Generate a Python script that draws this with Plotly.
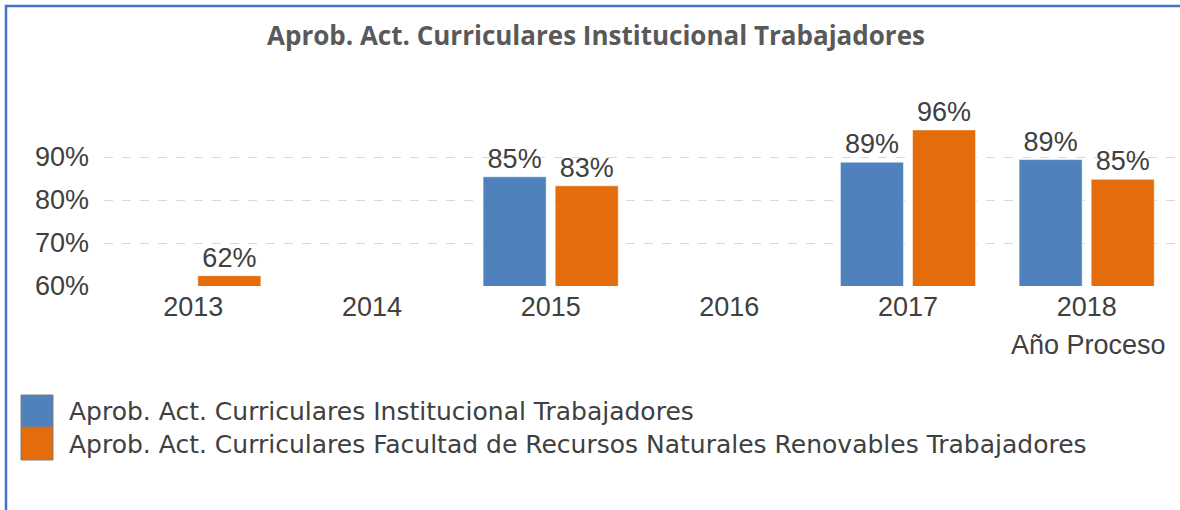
import plotly.graph_objects as go

# ---- data ----
years = ["2013", "2014", "2015", "2016", "2017", "2018"]
institucional = [None, None, 85.4, None, 88.8, 89.4]
facultad = [62.4, None, 83.3, None, 96.3, 84.8]
y_tick_vals = [60, 70, 80, 90]
y_tick_text = ["60%", "70%", "80%", "90%"]
series_names = [
    "Aprob. Act. Curriculares Institucional Trabajadores",
    "Aprob. Act. Curriculares Facultad de Recursos Naturales Renovables Trabajadores",
]
title_text = "Aprob. Act. Curriculares Institucional Trabajadores"
x_title = "Año Proceso"

BLUE = "#4F81BD"
ORANGE = "#E46C0A"
TXT = "#404040"

W, H = 1180, 510
ML, MR, MT, MB = 104, 4, 114, 224
PW = W - ML - MR
PH = H - MT - MB


def px_x(px):
    return (px - ML) / PW


def px_y(py):
    return (H - MB - py) / PH


def labels(vals):
    return [("%.0f%%" % v) if v is not None else "" for v in vals]


font_main = "Liberation Sans, Arial, sans-serif"

fig = go.Figure()
for name, vals, col in [(series_names[0], institucional, BLUE),
                        (series_names[1], facultad, ORANGE)]:
    fig.add_trace(go.Bar(
        x=years, y=vals, name=name,
        marker=dict(color=col, line=dict(color="rgba(255,255,255,0.55)", width=1)),
        text=labels(vals), textposition="outside", cliponaxis=False,
        constraintext="none",
        textfont=dict(family=font_main, size=27, color=TXT),
        showlegend=False,
    ))

fig.update_layout(
    width=W, height=H,
    margin=dict(l=ML, r=MR, t=MT, b=MB),
    paper_bgcolor="white", plot_bgcolor="white",
    barmode="group", bargap=0.193, bargroupgap=0.125,
    font=dict(family=font_main, size=27, color=TXT),
    xaxis=dict(type="category", categoryorder="array", categoryarray=years,
               showgrid=False, showline=False, zeroline=False, ticks="",
               tickfont=dict(size=27, color=TXT), ticklabelstandoff=2,
               range=[-0.5, 5.5]),
    yaxis=dict(range=[60, 100], tickvals=y_tick_vals, ticktext=y_tick_text,
               showgrid=True, gridcolor="#D9D9D9", griddash="dash", gridwidth=1,
               showline=False, zeroline=False, ticks="",
               tickfont=dict(size=27, color=TXT), ticklabelstandoff=14),
)

annotations = [
    dict(text="<b>%s</b>" % title_text, xref="paper", yref="paper",
         x=px_x(596), y=px_y(35), xanchor="center", yanchor="middle",
         showarrow=False, font=dict(family="Open Sans, sans-serif", size=26, color="#595959")),
    dict(text=x_title, xref="paper", yref="paper",
         x=px_x(1168), y=px_y(345), xanchor="right", yanchor="middle",
         showarrow=False, font=dict(family=font_main, size=27, color=TXT)),
    dict(text=series_names[0], xref="paper", yref="paper",
         x=px_x(67), y=px_y(411), xanchor="left", yanchor="middle",
         showarrow=False, font=dict(family="DejaVu Sans, sans-serif", size=25, color=TXT)),
    dict(text=series_names[1], xref="paper", yref="paper",
         x=px_x(67), y=px_y(444), xanchor="left", yanchor="middle",
         showarrow=False, font=dict(family="DejaVu Sans, sans-serif", size=25, color=TXT)),
]

shapes = [
    # outer frame (top and left edges)
    dict(type="line", xref="paper", yref="paper", x0=px_x(5), x1=px_x(1181),
         y0=px_y(6), y1=px_y(6), line=dict(color="#4472C4", width=2.5)),
    dict(type="line", xref="paper", yref="paper", x0=px_x(6), x1=px_x(6),
         y0=px_y(5), y1=px_y(511), line=dict(color="#4472C4", width=2.5)),
    # legend swatches
    dict(type="rect", xref="paper", yref="paper", x0=px_x(21), x1=px_x(53),
         y0=px_y(395), y1=px_y(427), fillcolor=BLUE, line=dict(color="#7F7F7F", width=1)),
    dict(type="rect", xref="paper", yref="paper", x0=px_x(21), x1=px_x(53),
         y0=px_y(427), y1=px_y(460), fillcolor=ORANGE, line=dict(color="#7F7F7F", width=1)),
]

fig.update_layout(annotations=annotations, shapes=shapes)
fig.write_html(
    "out.html",
    config={"displayModeBar": False},
    post_script="document.body.style.margin='0';document.body.style.overflow='hidden';",
)
